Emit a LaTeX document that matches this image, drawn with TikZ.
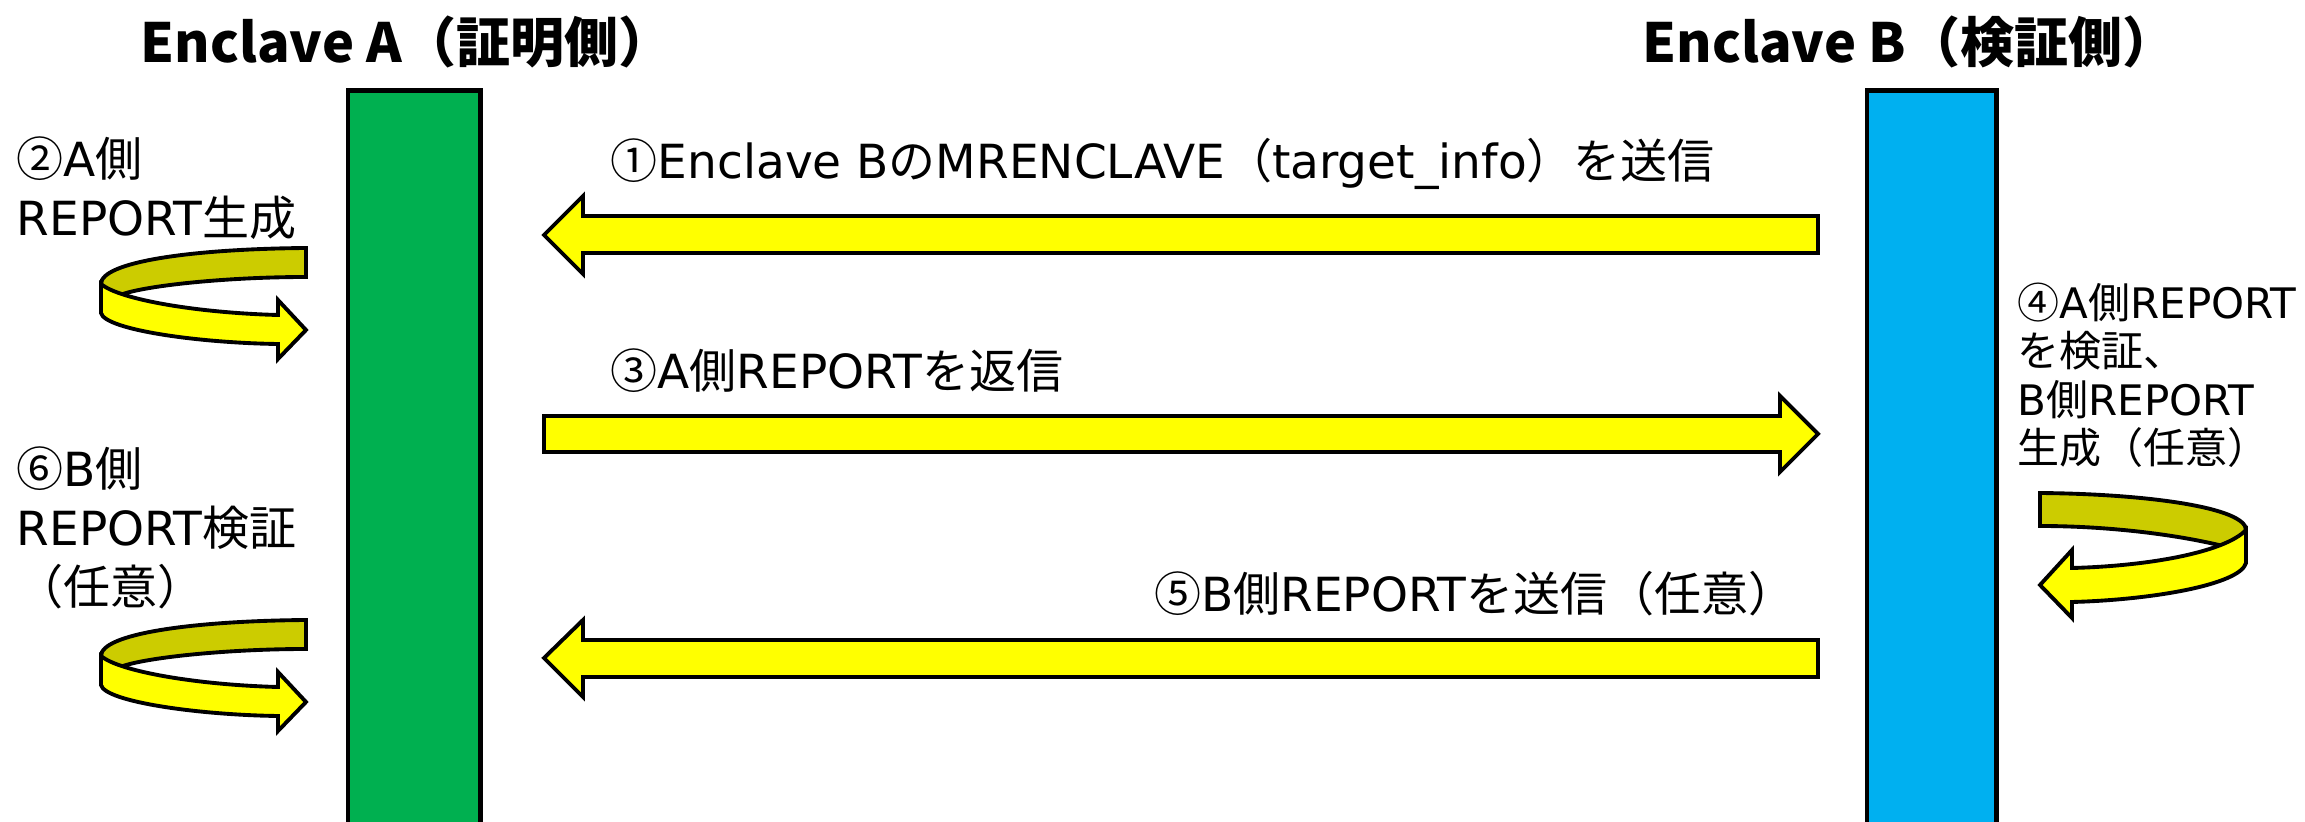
\documentclass[tikz,border=0pt]{standalone}
\usepackage{fontspec}
\setmainfont{DejaVu Sans}
\newfontfamily\jpfont{Noto Sans CJK JP}
\newcommand\jj[1]{{\jpfont #1}}
\definecolor{barA}{HTML}{00B050}
\definecolor{barB}{HTML}{00B0F0}
\definecolor{ylw}{HTML}{FFFF00}
\definecolor{olv}{HTML}{CCCC00}
\begin{document}
\begin{tikzpicture}[x=0.01cm,y=-0.01cm,
  lbl/.style={anchor=base west,inner sep=0pt,font=\fontsize{13.37pt}{16pt}\selectfont},
  lbls/.style={anchor=base west,inner sep=0pt,font=\fontsize{11.95pt}{14pt}\selectfont},
  ttl/.style={anchor=base west,inner sep=0pt,font=\jpfont\bfseries\fontsize{15.36pt}{18pt}\selectfont},
  bar/.style={draw=black,line width=1.4pt,inner sep=0pt,anchor=north west,minimum height=7.6cm},
  blk/.style={draw=black,line width=1.1pt,fill=ylw,line join=miter},
  blko/.style={draw=black,line width=1.1pt,fill=olv,line join=miter}]
\useasboundingbox (0,0) rectangle (2305,822);

% titles
\node[ttl] (tA) at (140,63) {Enclave A（証明側）};
\node[ttl] (tB) at (1642,63) {Enclave B（検証側）};

% bars
\node[bar,fill=barA,minimum width=1.32cm] (A) at (345.5,88.5) {};
\node[bar,fill=barB,minimum width=1.295cm] (B) at (1864.5,88.5) {};

% block arrows
\path[blk] (1818,216) -- (583,216) -- (583,196) -- (544,235) -- (583,274) -- (583,253) -- (1818,253) -- cycle;
\path[blk] (544,416) -- (1780,416) -- (1780,396) -- (1818,434) -- (1780,472) -- (1780,452) -- (544,452) -- cycle;
\path[blk] (1818,640) -- (583,640) -- (583,620) -- (544,658) -- (583,697) -- (583,677) -- (1818,677) -- cycle;

% central labels
\node[lbl] (m1) at (610,179) {\jj{①}Enclave B\jj{の}MRENCLAVE\jj{（}target\_info\jj{）を送信}};
\node[lbl] (m3) at (610,389) {\jj{③}A\jj{側}REPORT\jj{を返信}};
\node[lbl,anchor=base east] (m5) at (1796,612) {\jj{⑤}B\jj{側}REPORT\jj{を送信（任意）}};

% left labels
\node[lbl] (l2a) at (16,177) {\jj{②}A\jj{側}};
\node[lbl] (l2b) at (16,236) {REPORT\jj{生成}};
\node[lbl] (l6a) at (16,487) {\jj{⑥}B\jj{側}};
\node[lbl] (l6b) at (16,546) {REPORT\jj{検証}};
\node[lbl] (l6c) at (16,605) {\jj{（任意）}};

% right labels
\node[lbls] (r4a) at (2017,319) {\jj{④}A\jj{側}REPORT};
\node[lbls] (r4b) at (2017,367) {\jj{を検証、}};
\node[lbls] (r4c) at (2017,416) {B\jj{側}REPORT};
\node[lbls] (r4d) at (2017,464) {\jj{生成（任意）}};

% left U-turn arrows
\foreach \dy in {0,372}{
\begin{scope}[yshift=-\dy*0.01cm]
\path[blko] (306,248) .. controls (190,249) and (101,262) .. (101,284) -- (101,300) -- (123,294) .. controls (150,285) and (230,277) .. (306,277) -- cycle;
\path[blk] (101,284) -- (101,313) .. controls (105,330) and (200,343) .. (278,344) -- (278,359) -- (306,330) -- (278,300) -- (278,315) .. controls (200,313) and (120,300) .. (101,284) -- cycle;
\end{scope}
}

% right U-turn arrow
\path[blko] (2040,493) .. controls (2150,494) and (2246,508) .. (2246,530) -- (2246,545) -- (2227,547) .. controls (2180,535) and (2110,526) .. (2040,526) -- cycle;
\path[blk] (2246,530) -- (2246,563) .. controls (2240,585) and (2150,600) .. (2072,602) -- (2072,618) -- (2040,585) -- (2072,550) -- (2072,568) .. controls (2150,566) and (2225,552) .. (2246,530) -- cycle;
\end{tikzpicture}
\end{document}
